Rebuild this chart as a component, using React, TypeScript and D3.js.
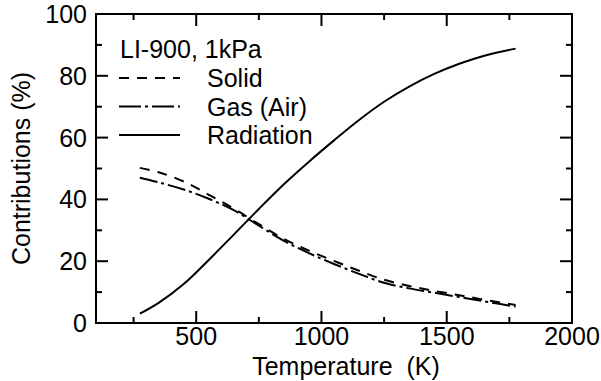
import React from 'react';
import * as d3 from 'd3';

// Thermal conductivity contributions, LI-900 at 1 kPa
const temps = [275, 350, 450, 550, 650, 750, 850, 950, 1050, 1150, 1250, 1350, 1450, 1550, 1650, 1775];
const solid = [50.2, 48.8, 45.8, 41.5, 37.0, 32.0, 27.2, 23.4, 20.1, 16.9, 14.0, 12.0, 10.4, 9.0, 7.5, 5.8];
const gas = [47.0, 45.5, 43.2, 40.2, 36.5, 31.5, 26.6, 22.6, 19.1, 15.9, 13.0, 11.2, 9.8, 8.4, 7.0, 5.3];
const radiation = [3.0, 6.5, 12.6, 20.4, 28.6, 36.9, 44.9, 52.2, 59.1, 65.7, 71.6, 76.5, 80.6, 83.9, 86.5, 88.8];

const xMajor = [500, 1000, 1500, 2000];
const xMinor = [250, 750, 1250, 1750];
const yMajor = [0, 20, 40, 60, 80, 100];
const yMinor = [10, 30, 50, 70, 90];

const legendTitle = 'LI-900, 1kPa';
const legendItems = [
  { label: 'Solid', dash: '10,8' },
  { label: 'Gas (Air)', dash: '22,4,3,4' },
  { label: 'Radiation', dash: null },
];

const series = [
  { values: solid, dash: '10,8' },
  { values: gas, dash: '18,4,3,4' },
  { values: radiation, dash: null },
];

const width = 601;
const height = 381;
const margin = { top: 14, right: 29, bottom: 58, left: 96 };
const font = '"Liberation Sans", Arial, Helvetica, sans-serif';
const fs = 25;

export default function App() {
  const innerW = width - margin.left - margin.right;
  const innerH = height - margin.top - margin.bottom;

  const x = d3.scaleLinear().domain([100, 2000]).range([0, innerW]);
  const y = d3.scaleLinear().domain([0, 100]).range([innerH, 0]);

  const line = (vals: number[]) =>
    d3.line<number>()
      .x((_, i) => x(temps[i]))
      .y(d => y(d))
      .curve(d3.curveCatmullRom.alpha(0.5))(vals) || '';

  const majorLen = 12;
  const minorLen = 6;

  return (
    <svg width={width} height={height} style={{ position: 'absolute', left: 0, top: 0, background: '#fff' }}
      fontFamily={font}>
      <g transform={`translate(${margin.left},${margin.top})`}>
        {/* frame */}
        <rect x={0} y={0} width={innerW} height={innerH} fill="none" stroke="#000" strokeWidth={2} />

        {/* x ticks, bottom and top, pointing inward */}
        {xMajor.map(t => (
          <g key={'xm' + t}>
            <line x1={x(t)} x2={x(t)} y1={innerH} y2={innerH - majorLen} stroke="#000" strokeWidth={2} />
            <line x1={x(t)} x2={x(t)} y1={0} y2={majorLen} stroke="#000" strokeWidth={2} />
            <text x={x(t)} y={innerH + 22} textAnchor="middle" fontSize={fs}>{t}</text>
          </g>
        ))}
        {xMinor.map(t => (
          <g key={'xn' + t}>
            <line x1={x(t)} x2={x(t)} y1={innerH} y2={innerH - minorLen} stroke="#000" strokeWidth={2} />
            <line x1={x(t)} x2={x(t)} y1={0} y2={minorLen} stroke="#000" strokeWidth={2} />
          </g>
        ))}

        {/* y ticks, left and right */}
        {yMajor.map(t => (
          <g key={'ym' + t}>
            <line x1={0} x2={majorLen} y1={y(t)} y2={y(t)} stroke="#000" strokeWidth={2} />
            <line x1={innerW} x2={innerW - majorLen} y1={y(t)} y2={y(t)} stroke="#000" strokeWidth={2} />
            <text x={-9} y={y(t)} dy="0.36em" textAnchor="end" fontSize={fs}>{t}</text>
          </g>
        ))}
        {yMinor.map(t => (
          <g key={'yn' + t}>
            <line x1={0} x2={minorLen} y1={y(t)} y2={y(t)} stroke="#000" strokeWidth={2} />
            <line x1={innerW} x2={innerW - minorLen} y1={y(t)} y2={y(t)} stroke="#000" strokeWidth={2} />
          </g>
        ))}

        {/* curves */}
        {series.map((s, i) => (
          <path key={i} d={line(s.values)} fill="none" stroke="#000" strokeWidth={2}
            strokeDasharray={s.dash || undefined} />
        ))}

        {/* legend */}
        <text x={24} y={44} fontSize={fs}>{legendTitle}</text>
        {legendItems.map((d, i) => (
          <g key={d.label} transform={`translate(0,${64 + i * 28.5})`}>
            <line x1={23} x2={84} y1={0} y2={0} stroke="#000" strokeWidth={2}
              strokeDasharray={d.dash || undefined} />
            <text x={111} y={9} fontSize={fs}>{d.label}</text>
          </g>
        ))}
      </g>

      {/* axis titles */}
      <text x={346} y={375} textAnchor="middle" fontSize={fs} xmlSpace="preserve">
        Temperature  (K)
      </text>
      <text transform={`translate(30,${margin.top + innerH / 2}) rotate(-90)`} textAnchor="middle" fontSize={fs}>
        Contributions (%)
      </text>
    </svg>
  );
}
